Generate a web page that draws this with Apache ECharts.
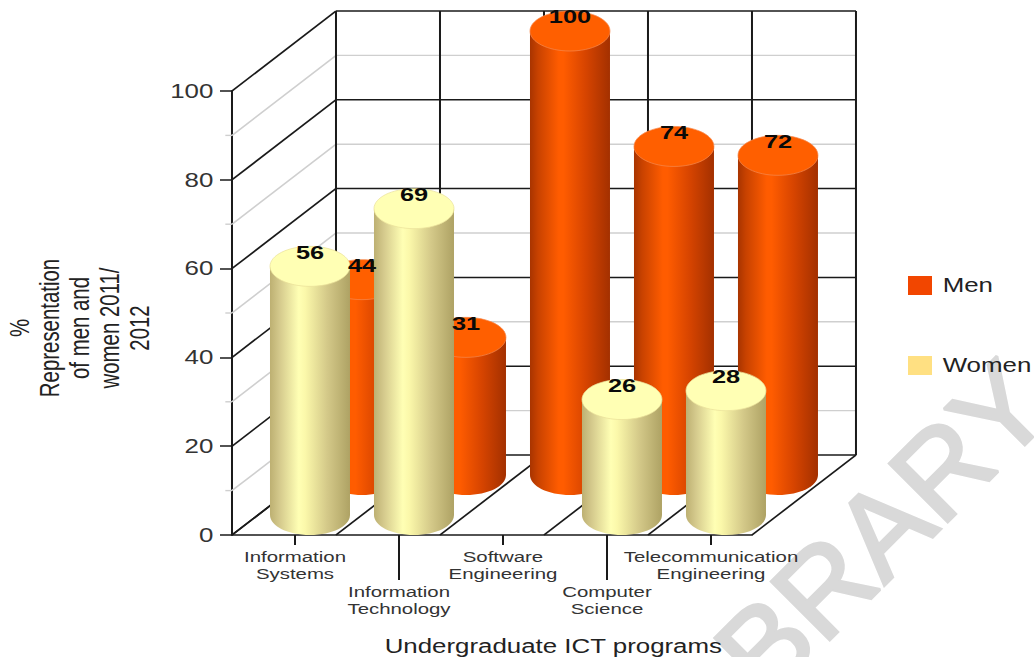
<!DOCTYPE html>
<html>
<head>
<meta charset="utf-8">
<style>
  html, body { margin: 0; padding: 0; background: #fff; overflow: hidden; }
  #mark { position: absolute; left: 0; top: 0; width: 1034px; height: 657px; }
  /* Plot is laid out on a narrower canvas and widened, which gives the broad letterforms */
  #chart { position: absolute; left: 0; top: 0; width: 775.5px; height: 657px; transform: scaleX(1.3333); transform-origin: 0 0; }
</style>
<script src="https://cdn.jsdelivr.net/npm/echarts@6/dist/echarts.min.js"></script>
</head>
<body>
<div id="mark"></div>
<div id="chart"></div>
<script>
const categories = ['Information\nSystems', 'Information\nTechnology', 'Software\nEngineering', 'Computer\nScience', 'Telecommunication\nEngineering'];
const menValues = [44, 31, 100, 74, 72];
const womenValues = [56, 69, null, 26, 28];
const gridValues = [0, 10, 20, 30, 40, 50, 60, 70, 80, 90, 100];
const yAxisTitle = '%\nRepresentation\nof men and\nwomen 2011/\n2012';
const xAxisTitle = 'Undergraduate ICT programs';
const watermarkText = 'BRARY';

const FONT = '"Liberation Sans", Arial, sans-serif';
// Oblique projection: depth of the box, and cylinder radii, in chart units
const DEPTH_X = 78, DEPTH_Y = 80, RX = 30, RY = 20;
const INK = '#1a1a1a', MINOR = '#cfcfcf';

function line(x1, y1, x2, y2, stroke, lineWidth) {
  return { type: 'line', shape: { x1, y1, x2, y2 }, style: { stroke, lineWidth }, silent: true };
}

// Left wall and back wall rules at every grid value
function renderWallRules(params, api) {
  const v = api.value(1);
  const cs = params.coordSys;
  const y = api.coord([0, v])[1];
  const major = v % 20 === 0;
  const stroke = major ? INK : MINOR;
  const w = major ? 1.5 : 1.4;
  const kids = [
    line(cs.x, y, cs.x + DEPTH_X, y - DEPTH_Y, stroke, w),
    line(cs.x + DEPTH_X, y - DEPTH_Y, cs.x + DEPTH_X + cs.width, y - DEPTH_Y, stroke, w)
  ];
  if (!major) kids.push(line(cs.x - 5, y, cs.x, y, stroke, w));
  return { type: 'group', children: kids };
}

// Floor diagonals, back wall verticals and the staggered category ticks
function renderColumnRules(params, api) {
  const i = api.value(0);
  const cs = params.coordSys;
  const band = api.size([1, 0])[0];
  const base = api.coord([i, 0]);
  const top = cs.y;
  const kids = [];
  const edges = i === categories.length - 1 ? [i, i + 1] : [i];
  edges.forEach(function (e) {
    const x = cs.x + e * band;
    kids.push(line(x, base[1], x + DEPTH_X, base[1] - DEPTH_Y, INK, 1.5));
    kids.push(line(x + DEPTH_X, top - DEPTH_Y, x + DEPTH_X, base[1] - DEPTH_Y, INK, 1.5));
  });
  const tickX = base[0] + 8.25;
  kids.push(line(tickX, base[1], tickX, base[1] + (i % 2 ? 45 : 10), INK, 1.5));
  return { type: 'group', children: kids };
}

function cylinderRenderer(depthFraction, stops, topColor, edgeColor, order) {
  return function (params, api) {
    const value = api.value(1);
    if (isNaN(value)) return null;
    const c = api.coord([api.value(0), value]);
    const b = api.coord([api.value(0), 0]);
    const cx = c[0] + DEPTH_X * depthFraction;
    const yTop = c[1] - DEPTH_Y * depthFraction;
    const yBase = b[1] - DEPTH_Y * depthFraction;
    const fill = new echarts.graphic.LinearGradient(0, 0, 1, 0, stops);
    return {
      type: 'group',
      children: [
        { type: 'ellipse', z2: order, shape: { cx, cy: yBase, rx: RX, ry: RY }, style: { fill } },
        { type: 'rect', z2: order, shape: { x: cx - RX, y: yTop, width: RX * 2, height: yBase - yTop }, style: { fill } },
        { type: 'ellipse', z2: order, shape: { cx, cy: yTop, rx: RX, ry: RY }, style: { fill: topColor, stroke: edgeColor, lineWidth: 0.6 } },
        { type: 'text', z2: 50, style: { text: String(value), x: cx, y: yTop - 14, align: 'center', verticalAlign: 'middle', fill: '#0a0a0a', font: 'bold 19px ' + FONT } }
      ]
    };
  };
}

const menStops = [
  { offset: 0, color: '#a83400' }, { offset: 0.1, color: '#c84200' },
  { offset: 0.36, color: '#ff5c00' }, { offset: 0.42, color: '#ff5c00' },
  { offset: 0.7, color: '#d64400' }, { offset: 1, color: '#a33000' }
];
const womenStops = [
  { offset: 0, color: '#bdb072' }, { offset: 0.12, color: '#d4c98c' },
  { offset: 0.36, color: '#ffffb4' }, { offset: 0.44, color: '#fbf8aa' },
  { offset: 0.72, color: '#d3c888' }, { offset: 1, color: '#aea264' }
];

// The diagonal stamp sits on its own unstretched layer behind the plot
const markLayer = echarts.init(document.getElementById('mark'), null, { renderer: 'svg' });
markLayer.setOption({
  animation: false,
  graphic: [{
    type: 'text',
    silent: true,
    rotation: Math.PI / 4,
    x: 779,
    y: 716,
    style: { text: watermarkText, align: 'left', verticalAlign: 'bottom', fill: '#d9d9d9', stroke: '#d9d9d9', lineWidth: 3, font: '120px ' + FONT }
  }]
});

const chart = echarts.init(document.getElementById('chart'), null, { renderer: 'svg' });
chart.setOption({
  animation: false,
  grid: { left: 174, width: 390, top: 91, height: 444, outerBoundsMode: 'none' },
  legend: {
    data: ['Men', 'Women'],
    orient: 'vertical',
    left: 676,
    top: 271,
    icon: 'rect',
    itemWidth: 18,
    itemHeight: 19,
    itemGap: 61,
    selectedMode: false,
    textStyle: { fontFamily: FONT, fontSize: 19.4, color: '#222', padding: [4, 0, 0, 3] }
  },
  xAxis: {
    type: 'category',
    data: categories,
    name: xAxisTitle,
    nameLocation: 'middle',
    nameGap: 102,
    nameTextStyle: { fontFamily: FONT, fontSize: 19.4, color: '#222', padding: [0, 0, 0, 92] },
    axisLine: { lineStyle: { color: INK, width: 1.5 } },
    axisTick: { show: false },
    axisLabel: {
      interval: 0,
      margin: 13,
      fontFamily: FONT,
      fontSize: 15.3,
      lineHeight: 17.5,
      color: '#333',
      padding: [0, 0, 0, 16.5],
      verticalAlign: 'top',
      formatter: function (name, i) { return (i % 2 ? '\n\n' : '') + name; }
    }
  },
  yAxis: {
    type: 'value',
    min: 0,
    max: 100,
    interval: 20,
    name: yAxisTitle,
    nameLocation: 'middle',
    nameRotate: 90,
    nameGap: 58,
    nameTextStyle: { fontFamily: FONT, fontSize: 20.4, lineHeight: 22.5, color: '#222', padding: [0, 30, 0, 0] },
    splitLine: { show: false },
    axisLine: { show: true, lineStyle: { color: INK, width: 1.5 } },
    axisTick: { show: true, length: 9, lineStyle: { color: INK, width: 1.5 } },
    axisLabel: { margin: 14, fontFamily: FONT, fontSize: 19.4, color: '#333' }
  },
  series: [
    { type: 'custom', name: 'walls', z: 1, silent: true, renderItem: renderWallRules, encode: { x: 0, y: 1 }, data: gridValues.map(v => [0, v]) },
    { type: 'custom', name: 'columns', z: 1, silent: true, renderItem: renderColumnRules, encode: { x: 0, y: 1 }, data: categories.map((c, i) => [i, 0]) },
    { type: 'custom', name: 'Men', z: 2, itemStyle: { color: '#f24600' }, renderItem: cylinderRenderer(0.75, menStops, '#ff5f00', '#f58a50', 1), encode: { x: 0, y: 1 }, data: menValues.map((v, i) => [i, v]) },
    { type: 'custom', name: 'Women', z: 2, itemStyle: { color: '#ffe082' }, renderItem: cylinderRenderer(0.25, womenStops, '#ffffb4', '#eadf9a', 2), encode: { x: 0, y: 1 }, data: womenValues.map((v, i) => [i, v]) }
  ]
});
</script>
</body>
</html>
